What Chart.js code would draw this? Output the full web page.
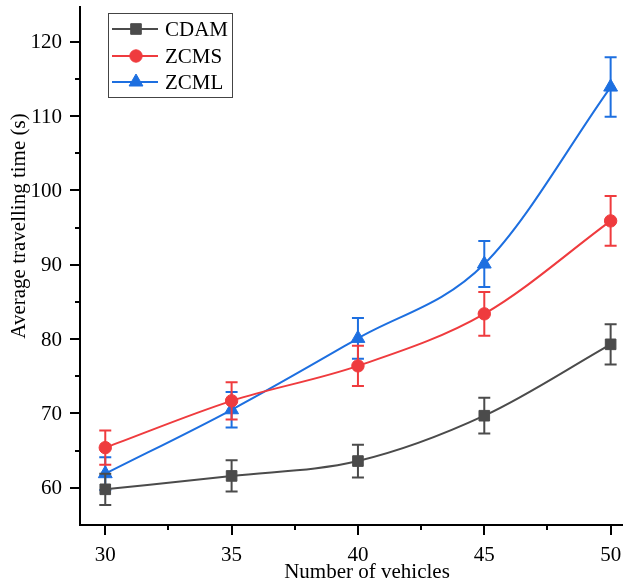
<!DOCTYPE html>
<html>
<head>
<meta charset="utf-8">
<script src="https://cdn.jsdelivr.net/npm/chart.js@4/dist/chart.umd.min.js"></script>
<style>
  html, body { margin: 0; padding: 0; background: #fff; }
  #wrap { width: 625px; height: 587px; }
</style>
</head>
<body>
<div id="wrap"><canvas id="chart" width="625" height="587"></canvas></div>
<script>
const vehicles = [30, 35, 40, 45, 50]
const seriesNames = ["CDAM", "ZCMS", "ZCML"]
const cdamTimes = [59.8, 61.6, 63.6, 69.7, 79.3]
const cdamErrors = [2.1, 2.1, 2.2, 2.4, 2.7]
const zcmsTimes = [65.4, 71.7, 76.4, 83.4, 95.9]
const zcmsErrors = [2.3, 2.5, 2.7, 2.95, 3.35]
const zcmlTimes = [61.9, 70.5, 80.1, 90.1, 113.9]
const zcmlErrors = [2.2, 2.4, 2.75, 3.1, 4.0]
const xMajorTicks = [30, 35, 40, 45, 50]
const xMinorTicks = [32.5, 37.5, 42.5, 47.5]
const yMajorTicks = [60, 70, 80, 90, 100, 110, 120]
const yMinorTicks = [65, 75, 85, 95, 105, 115]
const xTitle = "Number of vehicles"
const yTitle = "Average travelling time (s)"

const FONT = "'Liberation Serif', serif"
const COLORS = ["#4b4b4b", "#ef3b3e", "#1d6fe0"]
const STYLES = ["rect", "circle", "triangle"]
const RADII = [7.5, 6.2, 8]

function makeSeries(i, times, errors) {
  return {
    label: seriesNames[i],
    data: vehicles.map((v, k) => ({ x: v, y: times[k] })),
    errors: errors,
    borderColor: COLORS[i],
    backgroundColor: COLORS[i],
    borderWidth: 2,
    pointStyle: STYLES[i],
    pointRadius: RADII[i],
    pointBorderWidth: 1,
    pointBackgroundColor: COLORS[i],
    pointBorderColor: COLORS[i],
    cubicInterpolationMode: "monotone",
    tension: 0.4,
    fill: false
  }
}

// error bars under each series' markers
const errorBars = {
  id: "errorBars",
  beforeDatasetDraw(chart, args) {
    const ds = chart.data.datasets[args.index]
    const y = chart.scales.y
    const ctx = chart.ctx
    ctx.save()
    ctx.strokeStyle = ds.borderColor
    ctx.lineWidth = 2
    args.meta.data.forEach((pt, k) => {
      const v = ds.data[k].y
      const top = y.getPixelForValue(v + ds.errors[k])
      const bot = y.getPixelForValue(v - ds.errors[k])
      ctx.beginPath()
      ctx.moveTo(pt.x, top); ctx.lineTo(pt.x, bot)
      ctx.moveTo(pt.x - 6, top); ctx.lineTo(pt.x + 6, top)
      ctx.moveTo(pt.x - 6, bot); ctx.lineTo(pt.x + 6, bot)
      ctx.stroke()
    })
    ctx.restore()
  }
}

// outward ticks with labels, axis titles and the boxed legend
// (labels drawn here so the plot box is not shrunk for half labels)
const decorations = {
  id: "decorations",
  afterDraw(chart) {
    const ctx = chart.ctx
    const { left, bottom } = chart.chartArea
    const xs = chart.scales.x, ys = chart.scales.y
    ctx.save()
    ctx.strokeStyle = "#000"
    ctx.lineWidth = 2
    ctx.beginPath()
    xMajorTicks.forEach(v => { const p = Math.round(xs.getPixelForValue(v)); ctx.moveTo(p, bottom); ctx.lineTo(p, bottom + 10) })
    xMinorTicks.forEach(v => { const p = Math.round(xs.getPixelForValue(v)); ctx.moveTo(p, bottom); ctx.lineTo(p, bottom + 5) })
    yMajorTicks.forEach(v => { const p = Math.round(ys.getPixelForValue(v)); ctx.moveTo(left, p); ctx.lineTo(left - 10, p) })
    yMinorTicks.forEach(v => { const p = Math.round(ys.getPixelForValue(v)); ctx.moveTo(left, p); ctx.lineTo(left - 5, p) })
    ctx.stroke()

    ctx.fillStyle = "#000"
    ctx.font = "21px " + FONT
    ctx.textAlign = "center"
    ctx.textBaseline = "alphabetic"
    xMajorTicks.forEach(v => ctx.fillText(String(v), xs.getPixelForValue(v), 561))
    ctx.textAlign = "right"
    ctx.textBaseline = "middle"
    yMajorTicks.forEach(v => ctx.fillText(String(v), 62, ys.getPixelForValue(v) + 1))

    ctx.textAlign = "center"
    ctx.textBaseline = "alphabetic"
    ctx.fillText(xTitle, 367, 578)
    ctx.save()
    ctx.translate(25, 226)
    ctx.rotate(-Math.PI / 2)
    ctx.fillText(yTitle, 0, 0)
    ctx.restore()

    // legend
    ctx.lineWidth = 1
    ctx.strokeStyle = "#444"
    ctx.strokeRect(108.5, 13.5, 124, 84)
    const rows = [29, 56, 82]
    chart.data.datasets.forEach((ds, i) => {
      const yy = rows[i]
      ctx.strokeStyle = ds.borderColor
      ctx.lineWidth = 2
      ctx.beginPath(); ctx.moveTo(112, yy); ctx.lineTo(158, yy); ctx.stroke()
      ctx.fillStyle = ds.borderColor
      ctx.lineWidth = 1
      Chart.helpers.drawPoint(ctx, { pointStyle: ds.pointStyle, radius: ds.pointRadius, rotation: 0, borderWidth: 1 }, 136, yy)
      ctx.fillStyle = "#000"
      ctx.font = "21px " + FONT
      ctx.textAlign = "left"
      ctx.textBaseline = "middle"
      ctx.fillText(ds.label, 165, yy + 1)
    })
    ctx.restore()
  }
}

new Chart(document.getElementById("chart"), {
  type: "line",
  data: {
    datasets: [
      makeSeries(0, cdamTimes, cdamErrors),
      makeSeries(1, zcmsTimes, zcmsErrors),
      makeSeries(2, zcmlTimes, zcmlErrors)
    ]
  },
  options: {
    responsive: false,
    animation: false,
    devicePixelRatio: 1,
    layout: { autoPadding: false, padding: { top: 7, right: 3, left: 0, bottom: 0 } },
    scales: {
      x: {
        type: "linear",
        min: 29,
        max: 50.45,
        afterBuildTicks: s => { s.ticks = xMajorTicks.map(v => ({ value: v })) },
        afterFit: s => { s.height = 62 },
        grid: { display: false, drawTicks: false },
        border: { display: true, color: "#000", width: 2 },
        ticks: { display: false }
      },
      y: {
        min: 55,
        max: 124.67,
        afterBuildTicks: s => { s.ticks = yMajorTicks.map(v => ({ value: v })) },
        afterFit: s => { s.width = 80 },
        grid: { display: false, drawTicks: false },
        border: { display: true, color: "#000", width: 2 },
        ticks: { display: false }
      }
    },
    plugins: {
      legend: { display: false },
      tooltip: { enabled: false }
    }
  },
  plugins: [errorBars, decorations]
})
</script>
</body>
</html>
